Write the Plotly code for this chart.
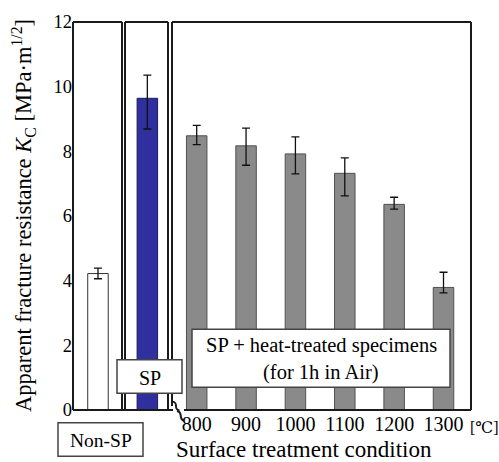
import plotly.graph_objects as go

# ---- data ----
categories = ["Non-SP", "SP", "800", "900", "1000", "1100", "1200", "1300"]
kc_values = [4.22, 9.64, 8.48, 8.17, 7.92, 7.32, 6.36, 3.79]
err_plus = [0.17, 0.72, 0.32, 0.55, 0.53, 0.48, 0.22, 0.47]
err_minus = [0.16, 0.95, 0.27, 0.60, 0.62, 0.70, 0.15, 0.17]
temp_labels = ["800", "900", "1000", "1100", "1200", "1300"]
y_ticks = [0, 2, 4, 6, 8, 10, 12]

bar_colors = ["#ffffff", "#2f2f9e"] + ["#8a8a8a"] * 6
line_colors = ["#333333", "#1c1c60"] + ["#505050"] * 6
x_pos = list(range(len(categories)))

W, H = 499, 462
L, R, T, B = 73, 28, 16, 52
PW, PH = W - L - R, H - T - B
FONT = "Liberation Serif, Times New Roman, DejaVu Serif, serif"


def px(x):
    return (x - L) / PW


def py(y):
    return (H - B - y) / PH


fig = go.Figure()
fig.add_trace(go.Bar(
    x=x_pos, y=kc_values, width=0.415,
    marker=dict(color=bar_colors, line=dict(color=line_colors, width=1)),
    error_y=dict(type="data", array=err_plus, arrayminus=err_minus,
                 color="#111111", thickness=1.3, width=4),
    showlegend=False,
))

lw = 2
lc = "#1a1a1a"
shapes = []


def line(x0, y0, x1, y1, w=lw, c=lc):
    shapes.append(dict(type="line", xref="paper", yref="paper",
                       x0=px(x0), y0=py(y0), x1=px(x1), y1=py(y1),
                       line=dict(color=c, width=w), layer="above"))


# box 1 (Non-SP)
line(73, 16, 73, 410)
line(73, 16, 122, 16)
line(122, 16, 122, 410)
line(73, 410, 173, 410)
# box 2 (SP)
line(125, 16, 125, 410)
line(125, 16, 168, 16)
line(168, 16, 168, 410)
# box 3 (heat treated)
line(172, 16, 471, 16)
line(471, 16, 471, 410)
line(172, 16, 172, 406)
line(184, 410, 471, 410)


def wave(x0, y0, x1, y1):
    p = "M {:.5f},{:.5f} C {:.5f},{:.5f} {:.5f},{:.5f} {:.5f},{:.5f}".format(
        px(x0), py(y0), px(x0 + 7), py(y0 + 1), px(x1 - 7), py(y1 - 1), px(x1), py(y1))
    shapes.append(dict(type="path", xref="paper", yref="paper", path=p,
                       line=dict(color=lc, width=2), layer="above"))


# axis break mark
wave(172.5, 401.5, 179.5, 410.5)
wave(177, 411, 184.5, 421)


def rect(x0, y0, x1, y1):
    shapes.append(dict(type="rect", xref="paper", yref="paper",
                       x0=px(x0), y0=py(y1), x1=px(x1), y1=py(y0),
                       fillcolor="white", line=dict(color="#444444", width=1.5),
                       layer="above"))


rect(117, 359, 182, 393)   # SP label box
rect(58, 423, 143, 457)    # Non-SP label box
rect(192, 328, 450, 387)   # heat-treated label box

annotations = []


def text(t, x, y, size=17, xanchor="center", angle=0):
    annotations.append(dict(text=t, xref="paper", yref="paper",
                            x=px(x), y=py(y), xanchor=xanchor, yanchor="middle",
                            showarrow=False, textangle=angle,
                            font=dict(family=FONT, size=size, color="black")))


text("SP", 149.5, 377, size=20)
text("Non-SP", 101, 441, size=19.5)
text("SP + heat-treated specimens", 321, 345, size=20.5)
text("(for 1h in Air)", 321, 372, size=20.5)
text("[℃]", 468, 428, size=16, xanchor="left")
text("Surface treatment condition", 174, 450, size=23, xanchor="left")
text("Apparent fracture resistance <i>K</i><sub>C</sub> [MPa·m<sup>1/2</sup>]",
     23, 213, size=22.5, angle=-90)

fig.update_layout(
    width=W, height=H,
    margin=dict(l=L, r=R, t=T, b=B, pad=0),
    plot_bgcolor="white", paper_bgcolor="white",
    font=dict(family=FONT, size=17, color="black"),
    shapes=shapes, annotations=annotations,
    xaxis=dict(range=[-0.506, 7.557], tickvals=x_pos[2:], ticktext=temp_labels,
               showgrid=False, zeroline=False, showline=False, ticks="",
               tickfont=dict(family=FONT, size=20, color="black")),
    yaxis=dict(range=[0, 12], tickvals=y_ticks, showgrid=False, zeroline=False,
               showline=False, ticks="",
               tickfont=dict(family=FONT, size=18.5, color="black")),
)

fig.write_html("out.html", config={"displayModeBar": False},
               post_script="document.body.style.margin='0px';")
